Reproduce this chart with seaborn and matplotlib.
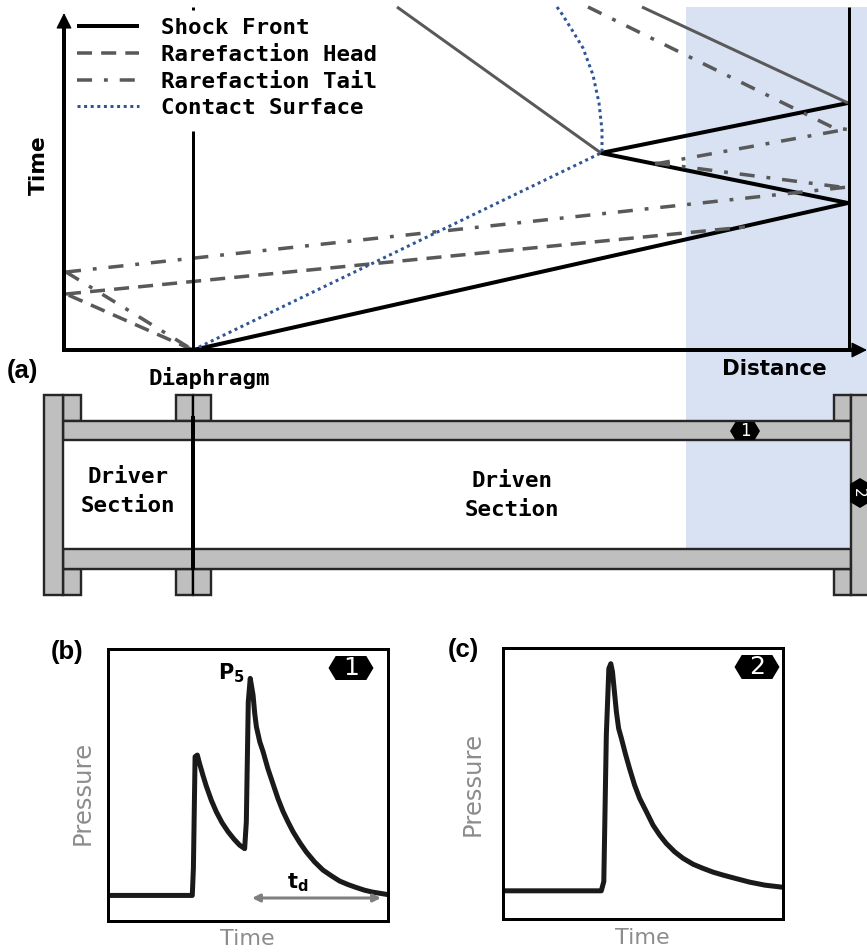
import seaborn as sns
import matplotlib
matplotlib.use("Agg")
import matplotlib.pyplot as plt
from matplotlib.patches import Rectangle, Polygon

# ======================
# DATA (wave diagram, in image pixels)
# ======================

shock_x = [193, 848, 601, 848]
shock_y = [350, 203, 153, 103]

grey_a_x = [397, 601]
grey_a_y = [7, 153]
grey_b_x = [642, 848]
grey_b_y = [7, 103]

head_left_x = [193, 66]
head_left_y = [350, 294]
head_x = [66, 745]
head_y = [294, 227]

tail_left_x = [66, 193]
tail_left_y = [272, 350]
tail_x = [66, 848]
tail_y = [272, 187]
tail_top_x = [588, 834, 853]
tail_top_y = [7, 128, 130]
tail_up_x = [655, 848]
tail_up_y = [164, 129]
tail_down_x = [655, 848]
tail_down_y = [163, 188]

contact_x = [193, 601]
contact_y = [350, 153]
contact_curve_x = [557, 562, 572, 583, 593, 599, 602, 602]
contact_curve_y = [7, 14, 30, 48, 75, 103, 130, 153]

# pressure traces (arbitrary units, 0-100)
time_b = [0, 30.1, 30.5, 31.1, 31.9, 32.7, 33.9, 35.1, 36.9, 38.7, 40.7, 42.9, 45, 47, 48.8,
          49.4, 50.1, 50.8, 51.8, 52.4, 53, 54.2, 55.4, 57.1, 58.9, 60.7, 62.5, 64.3, 66.1,
          68.5, 70.8, 73.8, 76.8, 79.8, 82.7, 85.7, 88.7, 91.7, 94.6, 100]
pressure_b = [9.4, 9.4, 19.3, 60.4, 61, 57.9, 53.6, 49.6, 44.4, 40.1, 36.2, 32.8, 30.1, 27.9,
              26.6, 36.4, 80.6, 89.2, 83.1, 76.3, 71.4, 65.9, 62.2, 56, 50.5, 45, 40.3, 36.4,
              32.8, 28.8, 25.4, 21.7, 18.7, 16.6, 14.7, 13.4, 12.3, 11.3, 10.6, 9.7]

time_c = [0, 35.1, 36, 36.9, 37.8, 38.5, 39.1, 40.5, 41.3, 42.3, 43.7, 45.2, 47, 48.8, 51.2,
          53.6, 56, 58.3, 61.3, 64.3, 67.9, 71.4, 75, 78.6, 83.3, 88.1, 93.5, 100]
pressure_c = [10.4, 10.4, 13.8, 67.8, 92.4, 94.2, 91.2, 76.4, 70.3, 66.6, 61, 55.5, 49.4, 44.5,
              39.6, 34.6, 30.9, 27.9, 24.8, 22.4, 20.2, 18.7, 17.3, 16.2, 14.9, 13.6, 12.5, 11.7]

legend_labels = ["Shock Front", "Rarefaction Head", "Rarefaction Tail", "Contact Surface"]

# ======================
# STYLE
# ======================

sns.set_theme(style="white")
plt.rcParams["font.family"] = ["DejaVu Sans"]
plt.rcParams["lines.solid_capstyle"] = "butt"

GREY = "#595959"
BLUE = "#2F5597"
BAND = "#D9E2F3"
STEEL = "#BFBFBF"
EDGE = "#262626"
LABEL = "#8C8C8C"
MONO = "DejaVu Sans Mono"
PX = 0.72  # one pixel in points at dpi 100

DASHED = (0, (4.3, 2.6))
DASHDOT = (0, (4.3, 3.4, 1.1, 3.4))
DOTTED = (0, (1, 1.2))

W, H = 867, 952
fig = plt.figure(figsize=(W / 100, H / 100), dpi=100)
ax = fig.add_axes([0, 0, 1, 1])


def wave(xs, ys, color, ls="-", lw=4, label=None, z=3):
    sns.lineplot(x=xs, y=ys, ax=ax, color=color, linestyle=ls, linewidth=lw * PX,
                 estimator=None, sort=False, errorbar=None, label=label, zorder=z)


def box(x0, y0, x1, y1, face=STEEL, lw=2.4):
    ax.add_patch(Rectangle((x0, y0), x1 - x0, y1 - y0, facecolor=face, edgecolor=EDGE,
                           linewidth=lw * PX, zorder=2))


def badge(cx, cy, w, h, text, size, vertical=False, rot=0, tx=None):
    n = h * 0.3 if not vertical else w * 0.3
    if vertical:
        pts = [(cx, cy - h / 2), (cx + w / 2, cy - h / 2 + n), (cx + w / 2, cy + h / 2 - n),
               (cx, cy + h / 2), (cx - w / 2, cy + h / 2 - n), (cx - w / 2, cy - h / 2 + n)]
    else:
        pts = [(cx - w / 2, cy), (cx - w / 2 + n, cy - h / 2), (cx + w / 2 - n, cy - h / 2),
               (cx + w / 2, cy), (cx + w / 2 - n, cy + h / 2), (cx - w / 2 + n, cy + h / 2)]
    ax.add_patch(Polygon(pts, closed=True, facecolor="black", edgecolor="none", zorder=6))
    ax.text(cx if tx is None else tx, cy, text, color="white", fontsize=size, ha="center",
            va="center", rotation=rot, zorder=7)


# ======================
# BACKGROUND BAND
# ======================

ax.add_patch(Rectangle((686, 7), 181, 542, facecolor=BAND, edgecolor="none", zorder=0))

# ======================
# WAVE DIAGRAM
# ======================

wave(shock_x, shock_y, "black", label=legend_labels[0])
wave(head_x, head_y, GREY, DASHED, 3.5, label=legend_labels[1])
wave(tail_x, tail_y, GREY, DASHDOT, 3.5, label=legend_labels[2])
wave(contact_x, contact_y, BLUE, DOTTED, 3, label=legend_labels[3])

wave(contact_curve_x, contact_curve_y, BLUE, DOTTED, 3)
wave(grey_a_x, grey_a_y, GREY, "-", 3)
wave(grey_b_x, grey_b_y, GREY, "-", 3)
wave(head_left_x, head_left_y, GREY, DASHED, 3.5)
wave(tail_left_x, tail_left_y, GREY, DASHDOT, 3.5)
wave(tail_top_x, tail_top_y, GREY, DASHDOT, 3.5)
wave(tail_up_x, tail_up_y, GREY, DASHDOT, 3.5)
wave(tail_down_x, tail_down_y, GREY, DASHDOT, 3.5)

# axis lines and the two tube stations
wave([193, 193], [131, 350], "black", "-", 3, z=4)
wave([193, 193], [7, 10], "black", "-", 3, z=4)
wave([849, 849], [7, 350], "black", "-", 3, z=4)
wave([64, 64], [352, 22], "black", "-", 4, z=5)
wave([62, 858], [350, 350], "black", "-", 4, z=5)
for tip, tail in [((64, 13), (64, 30)), ((867, 350), (850, 350))]:
    ax.annotate("", xy=tip, xytext=tail, zorder=5,
                arrowprops=dict(arrowstyle="-|>", color="black", lw=1, mutation_scale=24,
                                shrinkA=0, shrinkB=0))

# ======================
# SHOCK TUBE
# ======================

for x0, x1 in [(63, 81), (176, 193), (193, 211), (834, 851)]:
    box(x0, 395, x1, 421)
    box(x0, 569, x1, 595)
box(63, 421, 851, 440)
box(63, 549, 851, 569)
box(44, 395, 63, 595)
box(851, 395, 875, 595)
wave([193, 193], [416, 570], "black", "-", 4, z=4)
wave([193, 193], [395, 595], "black", "-", 2, z=4)

# the legend has to come after the last lineplot, seaborn rebuilds it on each call
leg = ax.legend(loc="upper left", bbox_to_anchor=(77, 18), bbox_transform=ax.transData,
                frameon=False, prop={"family": MONO, "weight": "bold", "size": 16.2},
                handlelength=2.75, handletextpad=1.0, labelspacing=0.3,
                borderpad=0, borderaxespad=0, labelcolor="black")

badge(745, 431, 30, 18, "1", 12)
badge(860, 493, 20, 30, "2", 11, vertical=True, rot=-90, tx=858)

# ======================
# TEXT
# ======================

mono = dict(family=MONO, weight="bold", fontsize=16.2, ha="center", va="center", color="black")
ax.text(209, 378, "Diaphragm", **mono)
ax.text(128, 477, "Driver", **mono)
ax.text(128, 506, "Section", **mono)
ax.text(512, 481, "Driven", **mono)
ax.text(512, 510, "Section", **mono)

ax.text(39, 165, "Time", rotation=90, weight="bold", fontsize=15.7, ha="center", va="center",
        color="black")
ax.text(774, 369, "Distance", weight="bold", fontsize=15.4, ha="center", va="center",
        color="black")

panel = dict(family="Liberation Sans", weight="bold", fontsize=18.5, ha="center", va="center",
             color="black")
ax.text(22, 371, "(a)", **panel)
ax.text(67, 652, "(b)", **panel)
ax.text(463, 650, "(c)", **panel)

ax.text(231, 673, r"$\mathbf{P_5}$", fontsize=15, ha="center", va="center", zorder=7,
        color="black")
ax.text(298, 883, r"$\mathbf{t_d}$", fontsize=15, ha="center", va="center", zorder=7,
        color="black")
ax.annotate("", xy=(252, 898), xytext=(381, 898), zorder=7,
            arrowprops=dict(arrowstyle="<|-|>", color="#7F7F7F", lw=3 * PX, mutation_scale=11,
                            shrinkA=0, shrinkB=0))

ax.set_xlim(0, W)
ax.set_ylim(H, 0)
ax.axis("off")


# ======================
# PRESSURE PANELS
# ======================

def pressure_panel(x0, y0, x1, y1, t, p, ylab_xy, xlab_xy):
    a = fig.add_axes([x0 / W, 1 - y1 / H, (x1 - x0) / W, (y1 - y0) / H], zorder=1)
    a.patch.set_alpha(0)
    sns.lineplot(x=t, y=p, ax=a, color="#1A1A1A", linewidth=5 * PX, estimator=None,
                 sort=False, errorbar=None)
    a.set_xlim(0, 100)
    a.set_ylim(0, 100)
    a.set_xticks([])
    a.set_yticks([])
    for s in a.spines.values():
        s.set_color("black")
        s.set_linewidth(3 * PX)
    a.set_xlabel("Time", color=LABEL, fontsize=16, va="center")
    a.set_ylabel("Pressure", color=LABEL, fontsize=17.5, va="center")
    a.xaxis.set_label_coords(*xlab_xy)
    a.yaxis.set_label_coords(*ylab_xy)
    return a


pressure_panel(108, 649, 388, 921, time_b, pressure_b, (-0.09, 0.47), (0.496, -0.066))
pressure_panel(503, 648, 783, 919, time_c, pressure_c, (-0.107, 0.498), (0.496, -0.07))

# badges above the panels, on a transparent top layer
ax.set_zorder(2)
badge(351, 668, 45, 24, "1", 18)
badge(757, 667, 45, 24, "2", 18)

plt.savefig("out.png", dpi=100)
